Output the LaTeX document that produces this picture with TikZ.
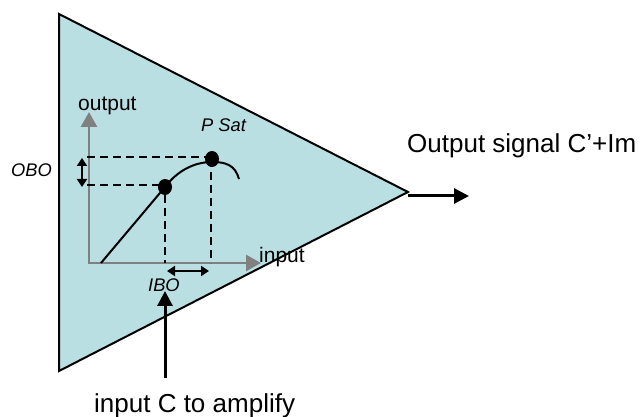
\documentclass[tikz,border=0pt]{standalone}
\usepackage{fontspec}
\setmainfont{Liberation Sans}
\usetikzlibrary{arrows.meta,shapes.geometric}
\definecolor{tri}{HTML}{B9DFE3}
\definecolor{axisgray}{HTML}{808080}
\tikzset{
 px/.style={x=1pt,y=-1pt},
 body/.style={draw=black,line width=2pt,fill=tri,line join=miter},
 axisline/.style={draw=axisgray,line width=2.8pt,-{Triangle[length=15pt,width=16pt]}},
 sig/.style={draw=black,line width=3pt,-{Triangle[length=15pt,width=15pt]}},
 smallarrow/.style={draw=black,line width=2.2pt,{Triangle[length=8pt,width=10pt]}-{Triangle[length=8pt,width=10pt]}},
 dashline/.style={draw=black,line width=2pt,dash pattern=on 8pt off 5pt},
 curveline/.style={draw=black,line width=2pt},
 dotm/.style={ellipse,fill=black,inner sep=0pt,minimum width=14pt,minimum height=16pt},
 bigtext/.style={font=\fontsize{26}{28}\selectfont,inner sep=0pt},
 midtext/.style={font=\fontsize{21}{23}\selectfont,inner sep=0pt},
 italtext/.style={font=\fontsize{18.3}{20}\selectfont\itshape,inner sep=0pt},
}
\begin{document}
\begin{tikzpicture}[px]
\useasboundingbox (0,0) rectangle (641,417);
\coordinate (tA) at (59,14);
\coordinate (tB) at (59,371);
\coordinate (tC) at (408,192);
\filldraw[body] (tA) -- (tC) -- (tB) -- cycle;
\coordinate (O) at (88,263);
\coordinate (Yend) at (89,112);
\coordinate (Xend) at (261,263);
\coordinate (Ocorner) at (89,263);
\path[axisline] (Ocorner) -- (Yend);
\path[axisline] (O) -- (Xend);
\coordinate (cs) at (101,263);
\node[dotm] (p1) at (165,187) {};
\node[dotm] (p2) at (212,159) {};
\coordinate (cp) at (212,162);
\coordinate (ce) at (239,179);
\path[curveline] (cs) -- (p1.center) .. controls (178,170) and (195,162) .. (cp) .. controls (226,162) and (235,165) .. (ce);
\coordinate (y1) at (87,157);
\coordinate (y2) at (87,185);
\coordinate (x1) at (165,263);
\coordinate (x2) at (211,263);
\path[dashline] (y1) -- (p2.center |- y1);
\path[dashline] (y2) -- (p1.center |- y2);
\path[dashline] (p1) -- (x1);
\path[dashline] (p2.center -| x2) -- (x2);
\coordinate (o1) at (82,158);
\coordinate (o2) at (82,187);
\path[smallarrow] (o1) -- (o2);
\coordinate (i1) at (167,271);
\coordinate (i2) at (209,271);
\path[smallarrow] (i1) -- (i2);
\coordinate (inS) at (165,378);
\coordinate (inE) at (165,291);
\path[sig] (inS) -- (inE);
\coordinate (outS) at (408,196);
\coordinate (outE) at (469,196);
\path[sig] (outS) -- (outE);
\node[midtext,anchor=base west] (tout) at (78,111) {output};
\node[midtext,anchor=base west] (tin) at (259,263) {input};
\node[italtext,anchor=base west] (tsat) at (201,132) {P Sat};
\node[italtext,anchor=base west] (tobo) at (11,177) {OBO};
\node[italtext,anchor=base west] (tibo) at (148,291) {IBO};
\node[bigtext,anchor=base west] (tsig) at (407,153) {Output signal C’+Im};
\node[bigtext,anchor=base west] (tc) at (94,412) {input C to amplify};
\end{tikzpicture}
\end{document}
